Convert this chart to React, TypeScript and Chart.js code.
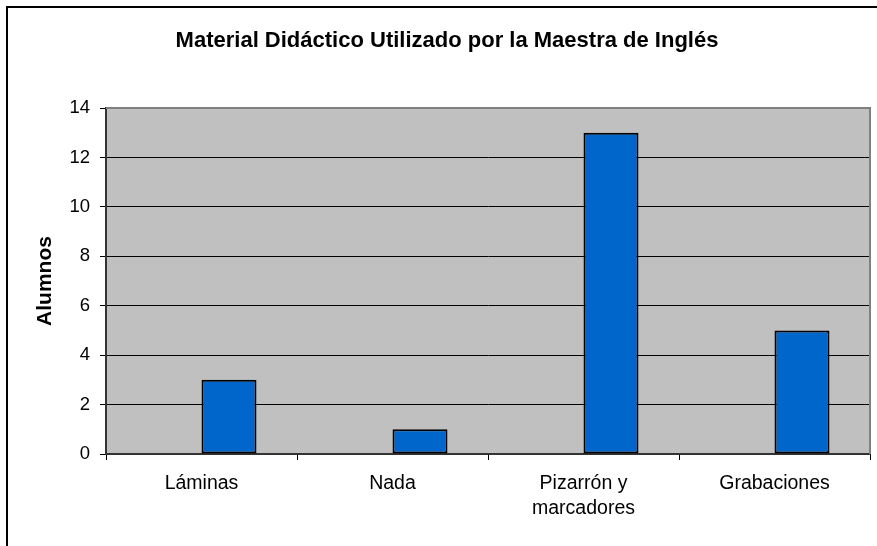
import React, { useEffect, useRef } from "react";
import { Chart, registerables } from "chart.js";

Chart.register(...registerables);

const categories: (string | string[])[] = ["Láminas", "Nada", ["Pizarrón y", "marcadores"], "Grabaciones"];
const emptySeries: (number | null)[] = [null, null, null, null];
const alumnos: number[] = [3, 1, 13, 5];
const chartTitle = "Material Didáctico Utilizado por la Maestra de Inglés";
const yTitle = "Alumnos";

const FONT = "'Liberation Sans', Arial, sans-serif";

const framePlugin = {
  id: "frame",
  beforeDraw(chart: any) {
    const { ctx, chartArea } = chart;
    ctx.save();
    ctx.fillStyle = "#ffffff";
    ctx.fillRect(0, 0, chart.width, chart.height);
    ctx.strokeStyle = "#000000";
    ctx.lineWidth = 2;
    ctx.strokeRect(7, 7, chart.width + 20, chart.height + 20);
    ctx.fillStyle = "#C0C0C0";
    ctx.fillRect(chartArea.left, chartArea.top, chartArea.right - chartArea.left, chartArea.bottom - chartArea.top);
    ctx.restore();
  },
  afterDatasetsDraw(chart: any) {
    const { ctx, chartArea } = chart;
    ctx.save();
    ctx.strokeStyle = "#808080";
    ctx.lineWidth = 2;
    ctx.beginPath();
    ctx.moveTo(chartArea.left, chartArea.top);
    ctx.lineTo(chartArea.right, chartArea.top);
    ctx.lineTo(chartArea.right, chartArea.bottom);
    ctx.stroke();
    ctx.restore();
  },
};

export default function App() {
  const ref = useRef<HTMLCanvasElement | null>(null);
  useEffect(() => {
    if (!ref.current) return;
    const chart = new Chart(ref.current, {
      type: "bar",
      data: {
        labels: categories,
        datasets: [
          { label: "", data: emptySeries, backgroundColor: "#0066CC", borderColor: "#000", borderWidth: 2 },
          { label: yTitle, data: alumnos, backgroundColor: "#0066CC", borderColor: "#000", borderWidth: 2, borderSkipped: false },
        ],
      },
      options: {
        animation: false,
        responsive: false,
        events: [],
        layout: { padding: { left: 24, right: 7, top: 0, bottom: 0 } },
        datasets: { bar: { categoryPercentage: 0.576, barPercentage: 1 } },
        plugins: {
          legend: { display: false },
          tooltip: { enabled: false },
          title: {
            display: true,
            text: chartTitle,
            color: "#000",
            font: { family: FONT, size: 22, weight: "bold", lineHeight: 1.2 },
            padding: { top: 28, bottom: 53.6 },
          },
        },
        scales: {
          x: {
            offset: true,
            afterFit: (s: any) => { s.height = 92; },
            grid: { display: true, drawOnChartArea: false, drawTicks: true, tickLength: 6, color: "#000", offset: true },
            border: { display: true, color: "#333", width: 2 },
            ticks: { color: "#000", font: { family: FONT, size: 19.5, lineHeight: 1.3 }, padding: 11, maxRotation: 0, autoSkip: false },
          },
          y: {
            min: 0,
            max: 14,
            afterFit: (s: any) => { s.width = 82; },
            ticks: { stepSize: 2, color: "#000", font: { family: FONT, size: 18.5 }, padding: 10 },
            grid: { color: "#000", lineWidth: 1, tickLength: 6 },
            border: { display: true, color: "#333", width: 2 },
            title: { display: true, text: yTitle, color: "#000", font: { family: FONT, size: 21, weight: "bold", lineHeight: 1.2 }, padding: { top: 8.5, bottom: 0 } },
          },
        },
      },
      plugins: [framePlugin],
    });
    return () => chart.destroy();
  }, []);
  return (
    <div style={{ position: "fixed", left: 0, top: 0, width: 877, height: 546 }}>
      <canvas ref={ref} width={877} height={546} style={{ display: "block", width: 877, height: 546 }} />
    </div>
  );
}
